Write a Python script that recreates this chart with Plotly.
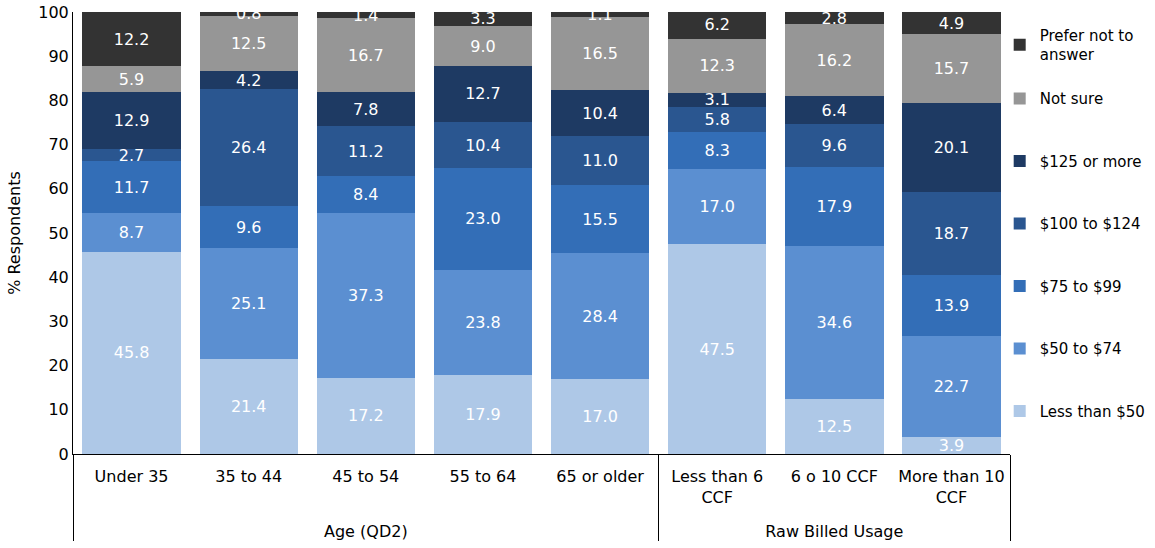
import plotly.graph_objects as go

groups = ["<br>Age (QD2)"] * 5 + ["<br>Raw Billed Usage"] * 3
categories = ["Under 35", "35 to 44", "45 to 54", "55 to 64", "65 or older",
              "Less than 6<br>CCF", "6 o 10 CCF", "More than 10<br>CCF"]

series_names = ["Less than $50", "$50 to $74", "$75 to $99", "$100 to $124",
                "$125 or more", "Not sure", "Prefer not to<br>answer"]
less_than_50 = [45.8, 21.4, 17.2, 17.9, 17.0, 47.5, 12.5, 3.9]
from_50_to_74 = [8.7, 25.1, 37.3, 23.8, 28.4, 17.0, 34.6, 22.7]
from_75_to_99 = [11.7, 9.6, 8.4, 23.0, 15.5, 8.3, 17.9, 13.9]
from_100_to_124 = [2.7, 26.4, 11.2, 10.4, 11.0, 5.8, 9.6, 18.7]
over_125 = [12.9, 4.2, 7.8, 12.7, 10.4, 3.1, 6.4, 20.1]
not_sure = [5.9, 12.5, 16.7, 9.0, 16.5, 12.3, 16.2, 15.7]
prefer_not = [12.2, 0.8, 1.4, 3.3, 1.1, 6.2, 2.8, 4.9]

series_values = [less_than_50, from_50_to_74, from_75_to_99, from_100_to_124,
                 over_125, not_sure, prefer_not]
colors = ["#AEC8E7", "#5B8FD1", "#336EB7", "#2A5690", "#1E3A63", "#969696", "#333333"]

font_family = "DejaVu Sans"

fig = go.Figure()
n = len(series_names)
for i, (name, vals, col) in enumerate(zip(series_names, series_values, colors)):
    fig.add_trace(go.Bar(
        x=[groups, categories], y=vals, name=name, legendgroup=name,
        legendrank=n - i,
        legend="legend2" if i == n - 1 else "legend",
        marker=dict(color=col, line=dict(width=0)),
        text=[f"{v:.1f}" for v in vals], texttemplate="%{text}",
        textposition="inside", insidetextanchor="middle", textangle=0,
        constraintext="none", cliponaxis=True,
        textfont=dict(color="white", size=16, family=font_family),
        hoverinfo="skip",
    ))

fig.update_layout(
    barmode="stack", bargap=0.16,
    width=1155, height=548,
    margin=dict(l=73, r=145, t=12, b=94, autoexpand=False),
    plot_bgcolor="white", paper_bgcolor="white",
    font=dict(family=font_family, size=16, color="black"),
    uniformtext=dict(minsize=16, mode="show"),
    legend=dict(x=0.989, y=0.841, xanchor="left", yanchor="top",
                traceorder="grouped", tracegroupgap=40, bgcolor="rgba(0,0,0,0)",
                font=dict(size=15, family=font_family), itemwidth=30),
    legend2=dict(x=0.989, y=0.985, xanchor="left", yanchor="top",
                 bgcolor="rgba(0,0,0,0)",
                 font=dict(size=15, family=font_family), itemwidth=30),
    showlegend=True,
)
fig.update_yaxes(range=[0, 100], dtick=10, showline=True, linecolor="black",
                 linewidth=1, showgrid=False, ticks="", zeroline=False,
                 automargin=False, ticklabeloverflow="allow",
                 title=dict(text="% Respondents", font=dict(size=16), standoff=13),
                 tickfont=dict(size=16))
fig.update_xaxes(showline=True, linecolor="black", linewidth=1, showgrid=False,
                 ticks="", showdividers=True, dividercolor="black", dividerwidth=1,
                 automargin=False, ticklabelstandoff=8,
                 tickfont=dict(size=16))

fig.write_html("out.html", config={"displayModeBar": False},
               post_script="document.body.style.margin='0';document.body.style.overflow='hidden';")
